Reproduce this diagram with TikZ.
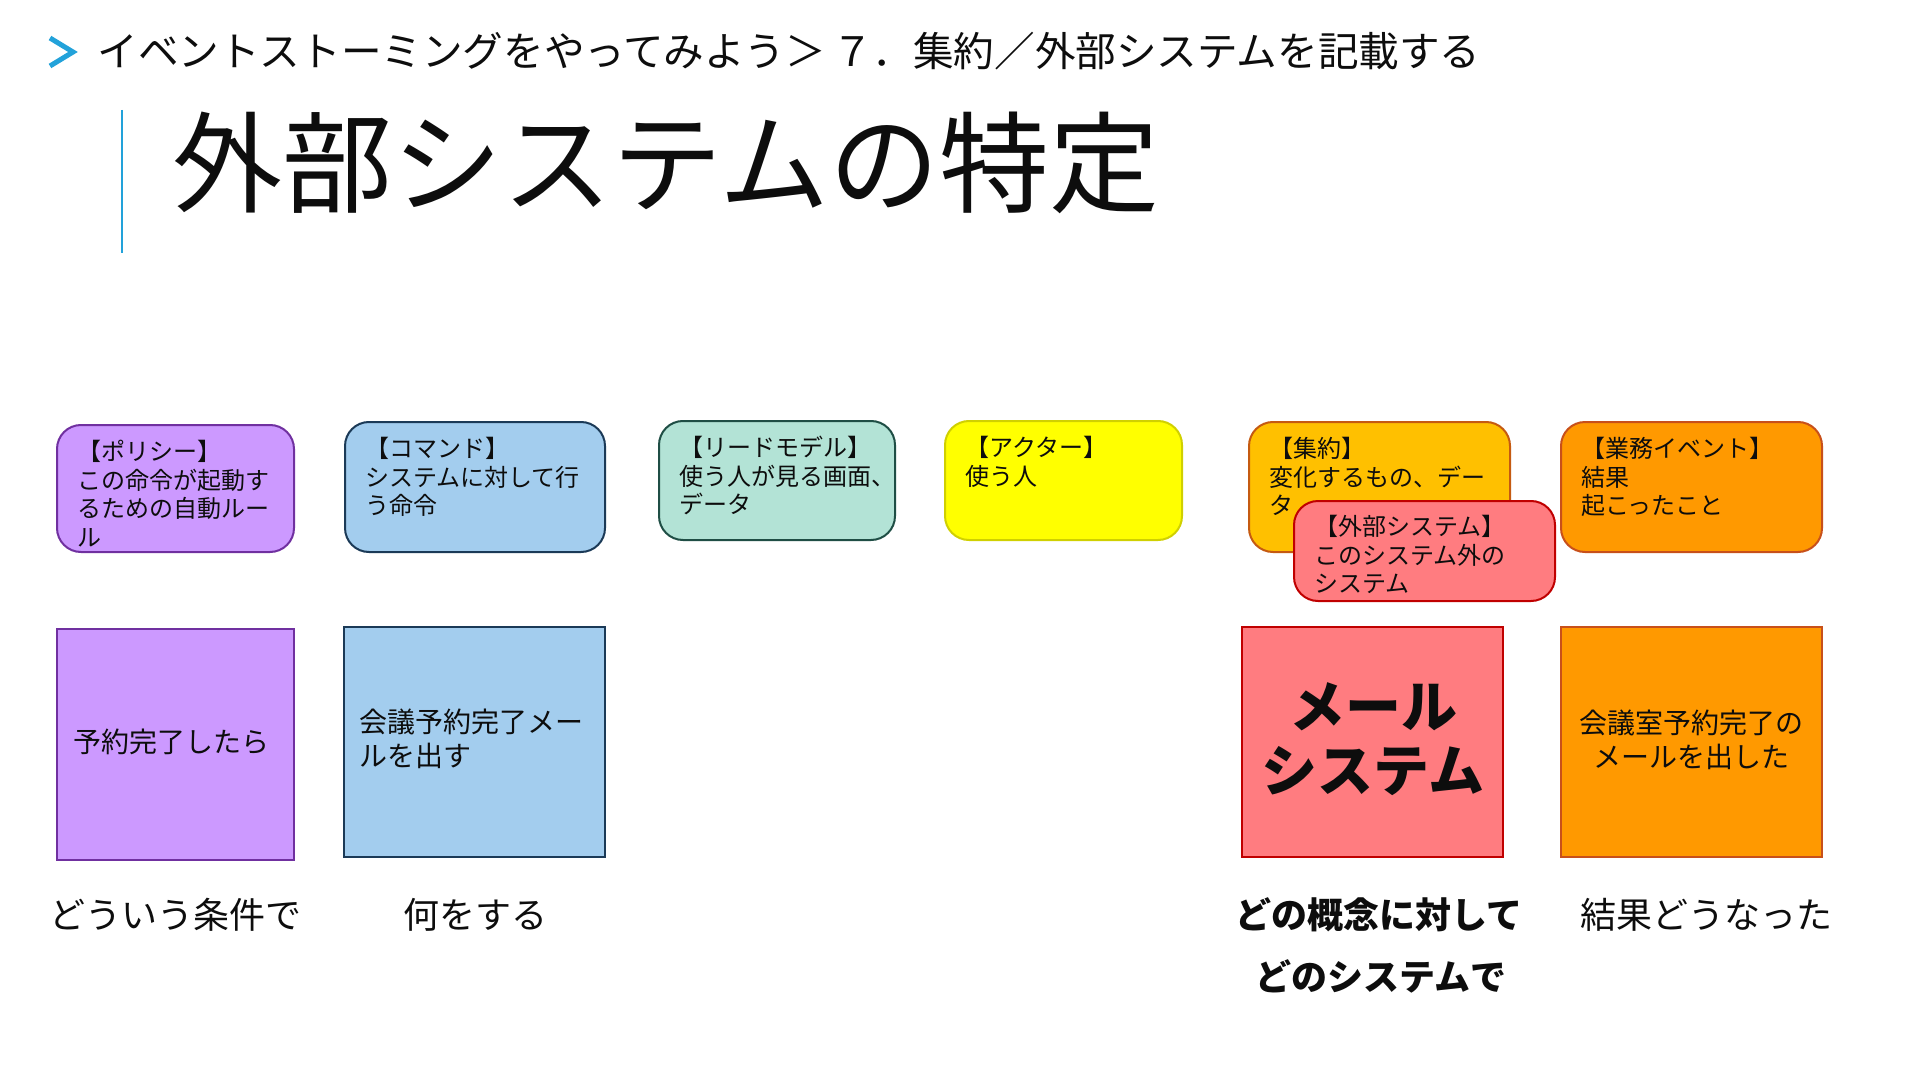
\documentclass[tikz,border=0pt]{standalone}
\usepackage{fontspec}
\newfontfamily\jp{Noto Sans CJK JP}
\usetikzlibrary{fit}
\definecolor{txt}{HTML}{0D0D0D}
\definecolor{accent}{HTML}{22A2DA}
\definecolor{polfill}{HTML}{CC99FF}\definecolor{poldraw}{HTML}{7030A0}
\definecolor{cmdfill}{HTML}{A3CDEE}\definecolor{cmddraw}{HTML}{1B3A57}
\definecolor{rmfill}{HTML}{B3E3D6}\definecolor{rmdraw}{HTML}{1F4E45}
\definecolor{actfill}{HTML}{FFFF00}\definecolor{actdraw}{HTML}{D0D000}
\definecolor{aggfill}{HTML}{FFC000}\definecolor{aggdraw}{HTML}{C55A11}
\definecolor{extfill}{HTML}{FF7C80}\definecolor{extdraw}{HTML}{C00000}
\definecolor{evfill}{HTML}{FF9900}\definecolor{evdraw}{HTML}{C8501A}
\begin{document}
\begin{tikzpicture}[x=0.5pt,y=-0.5pt,
  card/.style={draw, line width=1pt, rounded corners=12pt, inner sep=0pt, rectangle},
  sq/.style={draw, line width=1pt, inner sep=0pt, rectangle},
  cardtxt/.style={anchor=north west, inner sep=0pt, align=left, text=txt,
    font=\jp\fontsize{12}{14.25}\selectfont},
  sqtxt/.style={inner sep=0pt, text=txt, font=\jp\fontsize{14}{17}\selectfont},
  lbl/.style={inner sep=0pt, text=txt, font=\jp\fontsize{18}{22}\selectfont}]
\useasboundingbox[fill=white] (0,0) rectangle (1920,1080);

% header
\draw[accent, line width=2.5pt, line join=miter] (50,38) -- (73,52) -- (50,66);
\node[anchor=west, inner sep=0pt, text=txt, font=\jp\fontsize{20.3}{24}\selectfont] (crumb) at (97,51)
  {イベントストーミングをやってみよう＞\hspace{3pt}７．集約／外部システムを記載する};
\coordinate (bartop) at (122,110);
\coordinate (barbot) at (122,253);
\draw[accent, line width=1.2pt] (bartop) -- (barbot);
\node[anchor=west, inner sep=0pt, text=txt, font=\jp\fontsize{55}{60}\selectfont] (title) at (172,163)
  {外部システムの特定};

% top cards
\node[card, fill=polfill, draw=poldraw, fit={(57,425)(294,552)}] (pol) {};
\node[cardtxt] (poltxt) at ([shift={(21,16)}]pol.north west) {【ポリシー】\\この命令が起動す\\るための自動ルー\\ル};
\node[card, fill=cmdfill, draw=cmddraw, fit={(345,422)(605,552)}] (cmd) {};
\node[cardtxt] (cmdtxt) at ([shift={(21,16)}]cmd.north west) {【コマンド】\\システムに対して行\\う命令};
\node[card, fill=rmfill, draw=rmdraw, fit={(659,421)(895,540)}] (rm) {};
\node[cardtxt] (rmtxt) at ([shift={(21,16)}]rm.north west) {【リードモデル】\\使う人が見る画面、\\データ};
\node[card, fill=actfill, draw=actdraw, fit={(945,421)(1182,540)}] (act) {};
\node[cardtxt] (acttxt) at ([shift={(21,16)}]act.north west) {【アクター】\\使う人};
\node[card, fill=aggfill, draw=aggdraw, fit={(1249,422)(1510,552)}] (agg) {};
\node[cardtxt] (aggtxt) at ([shift={(21,16)}]agg.north west) {【集約】\\変化するもの、デー\\タ};
\node[card, fill=extfill, draw=extdraw, fit={(1294,501)(1555,601)}] (ext) {};
\node[cardtxt] (exttxt) at ([shift={(21,15)}]ext.north west) {【外部システム】\\このシステム外の\\システム};
\node[card, fill=evfill, draw=evdraw, fit={(1561,422)(1822,552)}] (ev) {};
\node[cardtxt] (evtxt) at ([shift={(21,16)}]ev.north west) {【業務イベント】\\結果\\起こったこと};

% bottom squares
\node[sq, fill=polfill, draw=poldraw, fit={(57,629)(294,860)}] (s1) {};
\node[sqtxt] (s1txt) at (171,742) {予約完了したら};
\node[sq, fill=cmdfill, draw=cmddraw, fit={(344,627)(605,857)}] (s2) {};
\node[sqtxt, anchor=north west, align=left] (s2txt) at (359,709) {会議予約完了メー\\ルを出す};
\node[sq, fill=extfill, draw=extdraw, fit={(1242,627)(1503,857)}] (s3) {};
\node[inner sep=0pt, align=center, text=txt, font=\jp\bfseries\fontsize{28}{32}\selectfont] (s3txt) at (1373,739) {メール\\システム};
\node[sq, fill=evfill, draw=evdraw, fit={(1561,627)(1822,857)}] (s4) {};
\node[sqtxt, align=center] (s4txt) at (1691,740) {会議室予約完了の\\メールを出した};

% labels
\node[lbl] (l1) at (175,915) {どういう条件で};
\node[lbl] (l2) at (475,915) {何をする};
\node[lbl, font=\jp\bfseries\fontsize{18}{22}\selectfont] (l3) at (1379,915) {どの概念に対して};
\node[lbl, font=\jp\bfseries\fontsize{18}{22}\selectfont] (l4) at (1381,976) {どのシステムで};
\node[lbl] (l5) at (1706,915) {結果どうなった};
\end{tikzpicture}
\end{document}
